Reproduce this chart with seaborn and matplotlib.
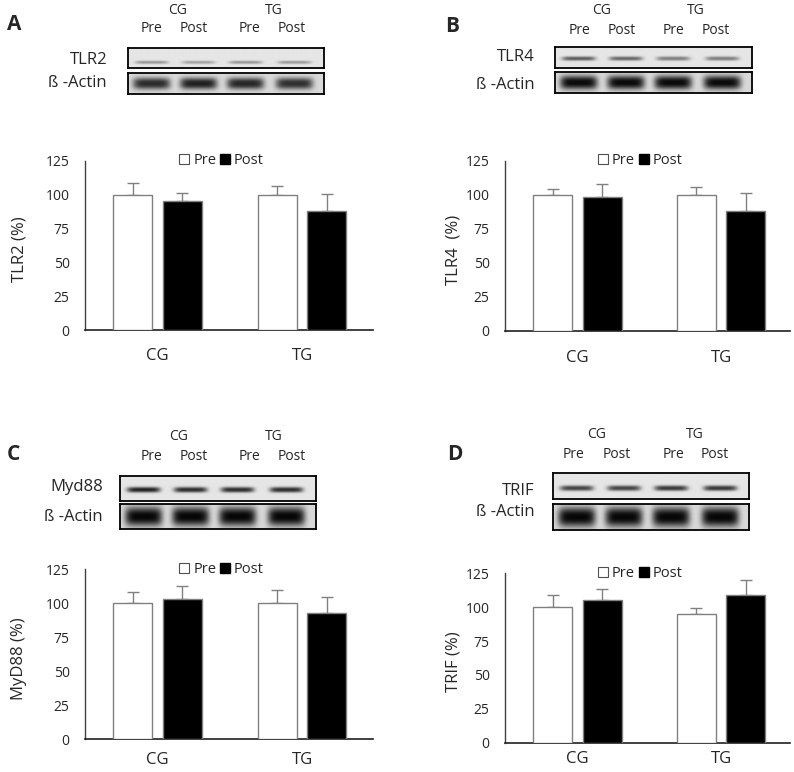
import numpy as np
import pandas as pd
import matplotlib
matplotlib.use("Agg")
import matplotlib.pyplot as plt
import seaborn as sns
from matplotlib.lines import Line2D

sns.set_style("white")
plt.rcParams['font.family'] = ['Open Sans', 'DejaVu Sans']

# ---------------- data ----------------
groups = ["CG", "TG"]
times = ["Pre", "Post"]

# order: CG-Pre, CG-Post, TG-Pre, TG-Post
tlr2_mean = [100, 95, 100, 88]
tlr2_err = [8.3, 6.5, 6.5, 12.4]
tlr4_mean = [100, 98.5, 100, 88]
tlr4_err = [4, 9, 6, 13]
myd88_mean = [100, 103, 100, 93]
myd88_err = [8.6, 10, 9.8, 11.6]
trif_mean = [100, 105, 95, 109]
trif_err = [9, 8.4, 4.7, 11]

ylabels = ["TLR2 (%)", "TLR4  (%)", "MyD88 (%)", "TRIF (%)"]
panel_letters = ["A", "B", "C", "D"]
blot_targets = ["TLR2", "TLR4", "Myd88", "TRIF"]
actin_label = "ß -Actin"
yticks = [0, 25, 50, 75, 100, 125]

# band intensities (relative darkness) for each lane: CG Pre, CG Post, TG Pre, TG Post
target_band = [[0.35, 0.30, 0.35, 0.33],
               [0.60, 0.55, 0.45, 0.45],
               [0.85, 0.80, 0.80, 0.80],
               [0.70, 0.70, 0.75, 0.75]]
actin_band = [[0.80, 0.85, 0.82, 0.78],
              [0.95, 0.95, 0.95, 0.95],
              [0.97, 0.97, 0.97, 0.97],
              [0.97, 0.97, 0.97, 0.97]]

means = [tlr2_mean, tlr4_mean, myd88_mean, trif_mean]
errs = [tlr2_err, tlr4_err, myd88_err, trif_err]

# ---------------- layout (pixels) ----------------
W, H = 794, 772
fig = plt.figure(figsize=(W / 100, H / 100), dpi=100)

def fx(x):
    return x / W

def fy(y):
    return 1 - y / H

def add_axes_px(x0, y0, x1, y1):
    return fig.add_axes([fx(x0), fy(y1), fx(x1 - x0), (y1 - y0) / H])

chart_boxes = [(85, 160.7, 373, 330), (505, 160.7, 790, 330.7),
               (85, 569.3, 373, 739.3), (505, 573.3, 790, 742.7)]
xlims = [(-0.502, 1.491), (-0.505, 1.48), (-0.502, 1.491), (-0.505, 1.48)]
xpads = [13, 14, 9.5, 6]

# blot layout: (box x0, x1, target y0, y1, actin y0, y1)
blot_boxes = [(128, 324, 48, 68, 73, 94),
              (555, 752, 47, 68, 72, 93),
              (120, 316, 476, 501, 504, 529),
              (553, 749, 473, 499, 504, 530)]
target_band_y = [0.72, 0.55, 0.55, 0.6]
target_band_h = [0.08, 0.10, 0.11, 0.10]
actin_band_h = [0.28, 0.33, 0.38, 0.38]
lane_frac = [0.12, 0.36, 0.60, 0.85]
header_pos = [  # (CG x, TG x, y, pre/post xs, y2)
    (178, 274, 10, [152, 194, 250, 292], 28),
    (602, 696, 10, [579, 622, 673, 716], 30),
    (179, 274, 437, [152, 194, 250, 292], 456),
    (597, 695, 435, [574, 617, 673, 715], 454),
]
label_pos = [(107, 60, 83), (535, 57, 85), (103, 487, 517), (535, 491, 512)]
letter_pos = [(7, 25), (445, 27), (7, 455), (447, 455)]
ylabel_x = [19, 453, 19, 453]


def band_image(intens, y_c, y_h, half_w, bg, nx=400, ny=60):
    xs = np.linspace(0, 1, nx)[None, :]
    ys = np.linspace(0, 1, ny)[:, None]
    img = np.full((ny, nx), bg)
    for lf, it in zip(lane_frac, intens):
        prof_x = np.exp(-np.abs((xs - lf) / half_w) ** 6)
        prof_y = np.exp(-np.abs((ys - y_c) / y_h) ** 2.5)
        img = img - it * bg * prof_x * prof_y
    return np.clip(img, 0, 1)


for i in range(4):
    # ----- bar chart -----
    x0, y0, x1, y1 = chart_boxes[i]
    ax = add_axes_px(x0, y0, x1, y1)
    df = pd.DataFrame({
        "group": [g for g in groups for _ in times],
        "time": [t for _ in groups for t in times],
        "value": means[i],
        "err": errs[i],
    })
    sns.barplot(data=df, x="group", y="value", hue="time", order=groups,
                hue_order=times, palette={"Pre": "white", "Post": "black"},
                edgecolor="#808080", linewidth=1.0, width=0.69, gap=0.217,
                errorbar=None, legend=False, ax=ax, zorder=3)
    bar_conts = list(ax.containers)
    for ti, cont in enumerate(bar_conts):
        for gi, patch in enumerate(cont):
            e = df[(df.group == groups[gi]) & (df.time == times[ti])]["err"].iloc[0]
            xc = patch.get_x() + patch.get_width() / 2
            h = patch.get_height()
            ax.errorbar([xc], [h], yerr=[[0], [e]], fmt="none", ecolor="#808080",
                        elinewidth=1.0, capsize=4, capthick=1.0, zorder=2)
    ax.set_ylim(0, 125)
    ax.set_xlim(*xlims[i])
    ax.set_yticks(yticks)
    ax.set_xlabel("")
    ax.set_ylabel("")
    for s in ["top", "right"]:
        ax.spines[s].set_visible(False)
    ax.spines["left"].set_color("#404040")
    ax.spines["bottom"].set_color("#202020")
    ax.spines["left"].set_linewidth(1.0)
    ax.spines["bottom"].set_linewidth(1.2)
    ax.tick_params(axis="y", direction="out", length=5, width=1, color="#404040",
                   labelsize=10, pad=6)
    ax.tick_params(axis="x", length=0, labelsize=12, pad=xpads[i])
    ax.patch.set_alpha(0)
    fig.text(fx(ylabel_x[i]), fy((y0 + y1) / 2 + 4), ylabels[i], rotation=90,
             ha="center", va="center", fontsize=12)
    handles = [
        Line2D([], [], marker="s", linestyle="none", markersize=6.5,
               markerfacecolor="white", markeredgecolor="#505050", markeredgewidth=0.8),
        Line2D([], [], marker="s", linestyle="none", markersize=6.5,
               markerfacecolor="black", markeredgecolor="black"),
    ]
    ax.legend(handles, times, loc="center", bbox_to_anchor=(0.475, 1.0), ncol=2,
              frameon=False, fontsize=10.5, handlelength=0.6, handletextpad=0.3,
              columnspacing=0.3, borderpad=0)

    # ----- western blot -----
    bx0, bx1, ty0, ty1, ay0, ay1 = blot_boxes[i]
    for (yy0, yy1, img) in [
        (ty0, ty1, band_image(target_band[i], target_band_y[i], target_band_h[i], 0.085, 0.90)),
        (ay0, ay1, band_image(actin_band[i], 0.5, actin_band_h[i], 0.095, 0.85)),
    ]:
        bax = add_axes_px(bx0, yy0, bx1, yy1)
        bax.imshow(img, cmap="gray", vmin=0, vmax=1, aspect="auto",
                   interpolation="bilinear")
        bax.set_xticks([])
        bax.set_yticks([])
        for s in bax.spines.values():
            s.set_visible(True)
            s.set_color("black")
            s.set_linewidth(1.3)

    lx, ly1, ly2 = label_pos[i]
    fig.text(fx(lx), fy(ly1), blot_targets[i], ha="right", va="center", fontsize=12)
    fig.text(fx(lx), fy(ly2), actin_label, ha="right", va="center", fontsize=12)
    cgx, tgx, hy, lanes, hy2 = header_pos[i]
    fig.text(fx(cgx), fy(hy), "CG", ha="center", va="center", fontsize=10)
    fig.text(fx(tgx), fy(hy), "TG", ha="center", va="center", fontsize=10)
    for lx2, t in zip(lanes, times * 2):
        fig.text(fx(lx2), fy(hy2), t, ha="center", va="center", fontsize=10)
    px, py = letter_pos[i]
    fig.text(fx(px), fy(py), panel_letters[i], ha="left", va="center",
             fontsize=15, fontweight="bold")

fig.savefig("out.png", dpi=100)
